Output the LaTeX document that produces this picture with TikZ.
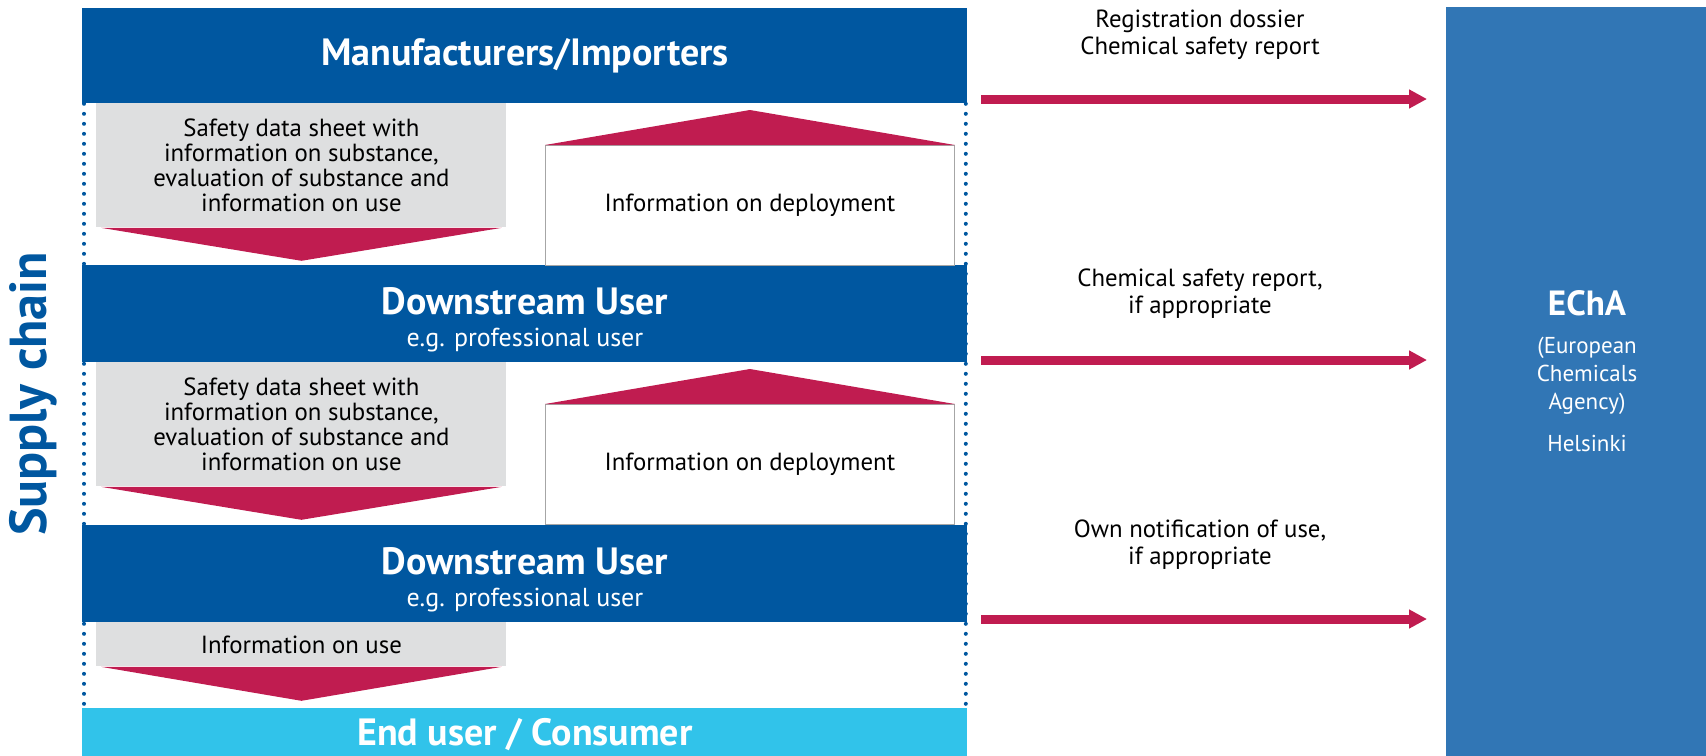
\documentclass[tikz,border=0pt]{standalone}
\usepackage{fontspec}
\setmainfont{PT Sans}
\usetikzlibrary{arrows.meta}
\definecolor{darkblue}{RGB}{0,87,160}
\definecolor{echablue}{RGB}{49,118,181}
\definecolor{lightblue}{RGB}{49,195,234}
\definecolor{flowred}{RGB}{192,28,80}
\definecolor{sheetgray}{RGB}{222,223,224}
\begin{document}
\begin{tikzpicture}[x=0.5pt, y=-0.5pt,
    bar/.style ={fill=darkblue, text=white, inner sep=0pt, minimum width=442.5pt, anchor=north west, align=center},
    sheet/.style ={fill=sheetgray, inner sep=0pt, minimum width=205pt, anchor=north west, align=center, font=\fontsize{12.4}{12.5}\selectfont},
    deploy/.style ={draw=gray!70, fill=white, inner sep=0pt, minimum width=204.5pt, minimum height=60pt, anchor=north west, font=\fontsize{12.4}{12.5}\selectfont},
    flowlabel/.style ={align=center, font=\fontsize{12.4}{13.5}\selectfont},
    flow/.style ={flowred, line width=4.5pt, -{Triangle[length=9pt,width=9pt]}},
    chain/.style ={darkblue, line width=2pt, line cap=round, dash pattern=on 0pt off 5pt}]
   \useasboundingbox (0,0) rectangle (1706,755);
   \clip (0,0) rectangle (1706,755);
   % supply chain
   \node[bar, minimum height=47.5pt, font=\fontsize{19}{22}\selectfont\bfseries] (mi) at (82,8) {Manufacturers/Importers};
   \node[bar, minimum height=48.5pt] (du1) at (82,265) {{\fontsize{19}{22}\selectfont\bfseries\rule{0pt}{19pt}Downstream User}\\[4pt]{\fontsize{13}{15}\selectfont e.g. professional user}};
   \node[bar, minimum height=48.5pt] (du2) at (82,525) {{\fontsize{19}{22}\selectfont\bfseries\rule{0pt}{19pt}Downstream User}\\[4pt]{\fontsize{13}{15}\selectfont e.g. professional user}};
   \node[bar, fill=lightblue, minimum height=26pt, font=\fontsize{19}{22}\selectfont\bfseries] (eu) at (82,708) {End user / Consumer};
   \node[rotate=90, text=darkblue, font=\fontsize{26}{30}\selectfont\bfseries] (chainlbl) at (33,394) {Supply chain};
   \draw[chain] ([xshift=1pt]mi.south west) -- ([xshift=1pt]eu.north west);
   \draw[chain] ([xshift=-1pt]mi.south east) -- ([xshift=-1pt]eu.north east);
   % downwards
   \node[sheet, minimum height=62pt] (sds1) at (96,103) {Safety data sheet with\\information on substance,\\evaluation of substance and\\information on use};
   \node[sheet, minimum height=62pt] (sds2) at (96,362) {Safety data sheet with\\information on substance,\\evaluation of substance and\\information on use};
   \node[sheet, minimum height=22pt] (use) at (96,622) {Information on use};
   \fill[flowred] ([xshift=2.5pt]sds1.south west) -- ([xshift=-2.5pt]sds1.south east) -- ([yshift=-16.5pt]sds1.south) -- cycle;
   \fill[flowred] ([xshift=2.5pt]sds2.south west) -- ([xshift=-2.5pt]sds2.south east) -- ([yshift=-16.5pt]sds2.south) -- cycle;
   \fill[flowred] ([xshift=2.5pt]use.south west) -- ([xshift=-2.5pt]use.south east) -- ([yshift=-17pt]use.south) -- cycle;
   % upwards
   \node[deploy] (dep1) at (545,145) {Information on deployment};
   \node[deploy] (dep2) at (545,404) {Information on deployment};
   \fill[flowred] (dep1.north west) -- (dep1.north east) -- ([yshift=17.5pt]dep1.north) -- cycle;
   \fill[flowred] (dep2.north west) -- (dep2.north east) -- ([yshift=17.5pt]dep2.north) -- cycle;
   % agency
   \node[fill=echablue, inner sep=0pt, minimum width=130pt, minimum height=380pt, anchor=north west] (echa) at (1446,7) {};
   \node[text=white, align=center, font=\fontsize{11.5}{14}\selectfont] (echalbl) at (1587,371) {{\fontsize{17.5}{21}\selectfont\bfseries EChA}\\[5pt](European\\Chemicals\\Agency)\\[7pt]Helsinki};
   \coordinate (s1) at (981,99);  \coordinate (e1) at (1427,99);
   \coordinate (s2) at (981,360); \coordinate (e2) at (1427,360);
   \coordinate (s3) at (981,619); \coordinate (e3) at (1427,619);
   \draw[flow] (s1) -- (e1);
   \draw[flow] (s2) -- (e2);
   \draw[flow] (s3) -- (e3);
   \node[flowlabel] (lab1) at (1200,35) {Registration dossier\\Chemical safety report};
   \node[flowlabel] (lab2) at (1200,294) {Chemical safety report,\\if appropriate};
   \node[flowlabel] (lab3) at (1200,545) {Own notification of use,\\if appropriate};
 \end{tikzpicture}
\end{document}
